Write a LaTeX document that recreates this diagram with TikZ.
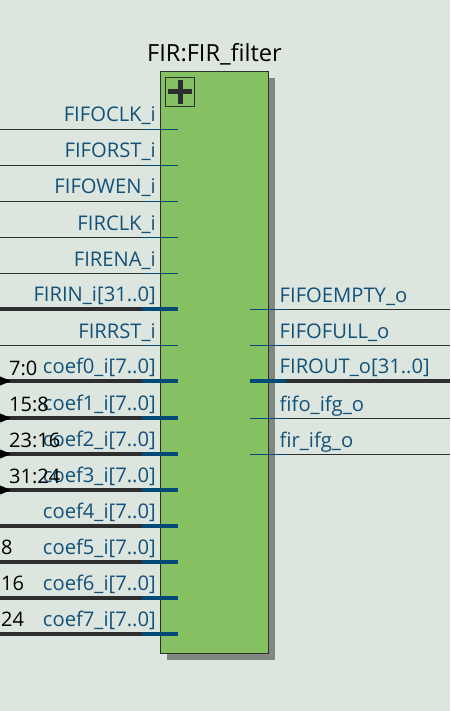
\documentclass[tikz,border=0pt]{standalone}
\usepackage{fontspec}
\setmainfont{Open Sans}
\usepackage{xcolor}
\usetikzlibrary{arrows.meta,positioning,calc}
\definecolor{canvas}{HTML}{DCE6DE}
\definecolor{blockgreen}{HTML}{85C062}
\definecolor{shade}{HTML}{808880}
\definecolor{ink}{HTML}{2E2E2E}
\definecolor{pinblue}{HTML}{004A75}
\definecolor{labelblue}{HTML}{14517A}

\begin{document}
\begin{tikzpicture}[x=1pt,y=-1pt,
  block/.style={draw=ink, line width=1pt, fill=blockgreen, minimum width=108pt, minimum height=582pt, inner sep=0pt},
  shadowbox/.style={fill=shade, minimum width=108pt, minimum height=582pt, inner sep=0pt},
  expander/.style={draw=ink, line width=1pt, minimum size=29pt, inner sep=0pt},
  inport/.style={anchor=base east, inner sep=0pt, font=\fontsize{20.2}{24}\selectfont, text=labelblue},
  outport/.style={anchor=base west, inner sep=0pt, font=\fontsize{20.2}{24}\selectfont, text=labelblue},
  bits/.style={anchor=base west, inner sep=0pt, font=\fontsize{20}{24}\selectfont, text=black},
  wire/.style={draw=ink, line width=1pt},
  wirebus/.style={draw=ink, line width=4pt},
  pin/.style={draw=pinblue, line width=1pt},
  pinbus/.style={draw=pinblue, line width=4pt},
  feed/.style={fill=black, draw=none}
]
  \useasboundingbox (0,0) rectangle (450,711);
  \fill[canvas] (0,0) rectangle (450,711);

  \node[shadowbox] (shadow) at (221,369) {};
  \node[block] (fir) at (214.5,362.5) {};
  \node[anchor=base, inner sep=0pt, font=\fontsize{23.6}{28}\selectfont] (title) at (214.5,62) {FIR:FIR\_filter};

  % expand button
  \node[expander] (plus) at (180,92) {};
  \coordinate (plusW) at (168,92);
  \coordinate (plusE) at (192,92);
  \coordinate (plusN) at (180,80);
  \coordinate (plusS) at (180,104);
  \draw[ink, line width=5pt] (plusW) -- (plusE);
  \draw[ink, line width=5pt] (plusN) -- (plusS);

  % input ports
  \foreach \name/\row/\txt/\kind in {
    fifoclk/129.5/FIFOCLK\_i/, fiforst/165.5/FIFORST\_i/, fifowen/201.5/FIFOWEN\_i/,
    firclk/237.5/FIRCLK\_i/, firena/273.5/FIRENA\_i/, firin/309/FIRIN\_i[31..0]/bus,
    firrst/345.5/FIRRST\_i/, coef0/381/coef0\_i[7..0]/bus, coef1/418/coef1\_i[7..0]/bus,
    coef2/454/coef2\_i[7..0]/bus, coef3/490/coef3\_i[7..0]/bus, coef4/526/coef4\_i[7..0]/bus,
    coef5/562/coef5\_i[7..0]/bus, coef6/598/coef6\_i[7..0]/bus, coef7/634/coef7\_i[7..0]/bus}
  {
    \node[inport] (\name) at (156,\row-7.5) {\txt};
    \coordinate (\name A) at (0,\row);
    \coordinate (\name B) at (142,\row);
    \coordinate (\name C) at (178,\row);
    \draw[wire\kind] (\name A) -- (\name B);
    \draw[pin\kind] (\name B) -- (\name C);
  }

  % output ports
  \foreach \name/\row/\txt/\kind in {
    fifoempty/309.5/FIFOEMPTY\_o/, fifofull/345.5/FIFOFULL\_o/, firout/381/FIROUT\_o[31..0]/bus,
    fifoifg/418.5/fifo\_ifg\_o/, firifg/454.5/fir\_ifg\_o/}
  {
    \node[outport] (\name) at (279.5,\row-7.5) {\txt};
    \coordinate (\name A) at (250,\row);
    \coordinate (\name B) at (286,\row);
    \coordinate (\name C) at (450,\row);
    \draw[pin\kind] (\name A) -- (\name B);
    \draw[wire\kind] (\name B) -- (\name C);
  }

  % bit ranges and feed markers
  \foreach \name/\row in {mark0/381, mark1/418, mark2/454, mark3/490}
  {
    \coordinate (\name T) at (11,\row);
    \coordinate (\name U) at (-1,\row-5);
    \coordinate (\name L) at (-1,\row+5);
    \fill[feed] (\name T) -- (\name U) -- (\name L) -- cycle;
  }
  \node[bits] (bits0) at (9,375) {7:0};
  \node[bits] (bits1) at (9,411) {15:8};
  \node[bits] (bits2) at (9,447) {23:16};
  \node[bits] (bits3) at (9,483) {31:24};
  \node[bits] (bits5) at (1,554) {8};
  \node[bits] (bits6) at (1,590) {16};
  \node[bits] (bits7) at (1,626) {24};
\end{tikzpicture}
\end{document}
